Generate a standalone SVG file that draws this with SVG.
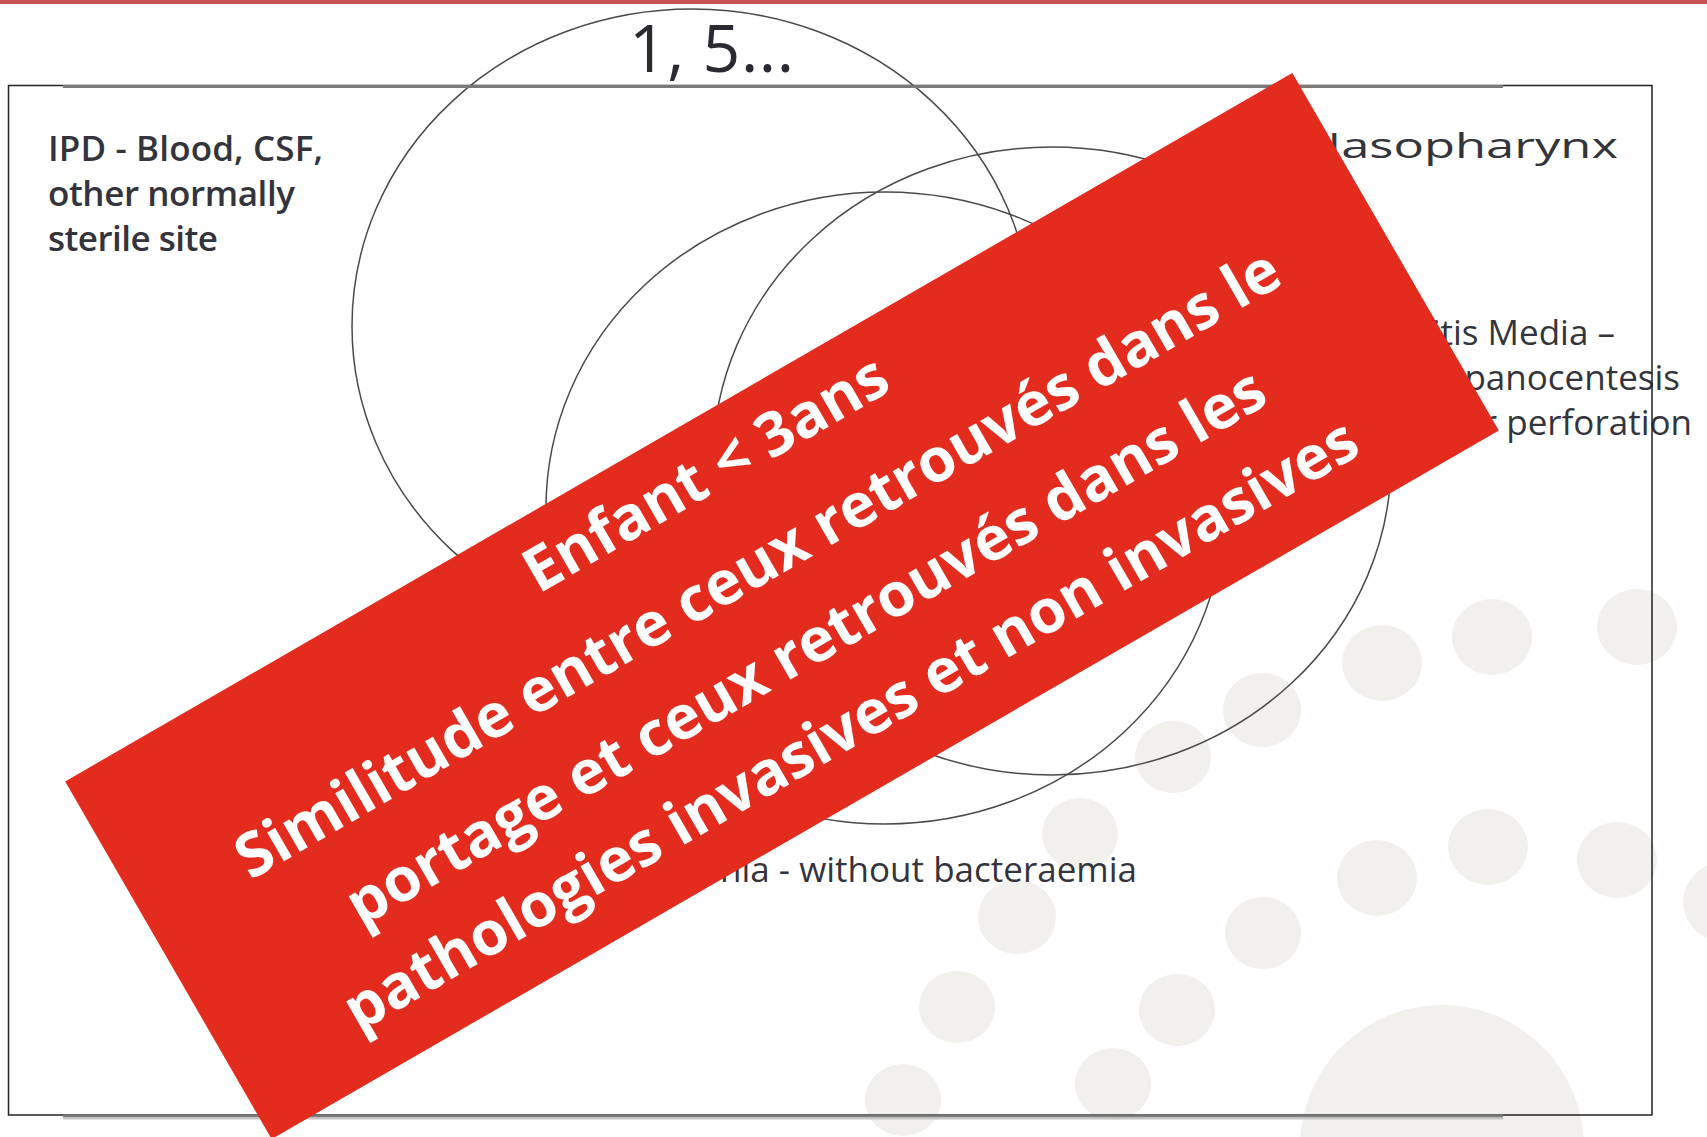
<svg xmlns="http://www.w3.org/2000/svg" width="1707" height="1137" viewBox="0 0 1707 1137">
<style>
.lbl{font-family:"Open Sans","Noto Sans","Liberation Sans",sans-serif;fill:#34343c;font-size:35px}
.big{font-family:"Open Sans","Noto Sans","Liberation Sans",sans-serif;fill:#2a2a30}
.ban{font-family:"Open Sans","Noto Sans","Liberation Sans",sans-serif;fill:#ffffff;font-size:61px;font-weight:700;text-anchor:middle}
.set{fill:none;stroke:#4a4a4a;stroke-width:1.5}
.dot{fill:#f1f0ec}
</style>
<rect width="1707" height="1137" fill="#ffffff"/>
<rect x="0" y="0" width="1707" height="4" fill="#c65353"/>
<g id="background-dots">
<ellipse class="dot" cx="1637" cy="627" rx="40" ry="38"/>
<ellipse class="dot" cx="1492" cy="637" rx="40" ry="38"/>
<ellipse class="dot" cx="1382" cy="663" rx="40" ry="38"/>
<ellipse class="dot" cx="1262" cy="710" rx="39" ry="37"/>
<ellipse class="dot" cx="1173" cy="757" rx="38" ry="36"/>
<ellipse class="dot" cx="1080" cy="834" rx="38" ry="36"/>
<ellipse class="dot" cx="1017" cy="917" rx="39" ry="37"/>
<ellipse class="dot" cx="957" cy="1007" rx="38" ry="36"/>
<ellipse class="dot" cx="903" cy="1100" rx="38" ry="36"/>
<ellipse class="dot" cx="1617" cy="860" rx="40" ry="38"/>
<ellipse class="dot" cx="1488" cy="847" rx="40" ry="38"/>
<ellipse class="dot" cx="1377" cy="878" rx="40" ry="38"/>
<ellipse class="dot" cx="1263" cy="933" rx="38" ry="36"/>
<ellipse class="dot" cx="1177" cy="1010" rx="38" ry="36"/>
<ellipse class="dot" cx="1113" cy="1084" rx="38" ry="36"/>
<ellipse class="dot" cx="1725" cy="902" rx="42" ry="40"/>
<circle class="dot" cx="1442" cy="1147" r="142"/>
</g>
<g id="sets">
<ellipse id="set-a" class="set" cx="692" cy="326" rx="340" ry="317"/>
<ellipse id="set-b" class="set" cx="885" cy="508" rx="339" ry="316"/>
<ellipse id="set-c" class="set" cx="1052" cy="461" rx="339" ry="314"/>
</g>
<g id="labels">
<g id="label-count"><text class="big" x="629" y="72" font-size="66" textLength="165">1, 5...</text></g>
<g id="label-ipd">
<text class="lbl" x="48" y="161" font-weight="600" textLength="275">IPD - Blood, CSF,</text>
<text class="lbl" x="48" y="206" font-weight="600" textLength="247">other normally</text>
<text class="lbl" x="48" y="251" font-weight="600" textLength="170">sterile site</text>
</g>
<g id="label-nasopharynx"><text class="lbl" x="1618" y="158" font-size="48" text-anchor="end" textLength="315" lengthAdjust="spacingAndGlyphs">Nasopharynx</text></g>
<g id="label-otitis">
<text class="lbl" x="1615" y="345" text-anchor="end">Otitis Media –</text>
<text class="lbl" x="1680" y="390" text-anchor="end">Tympanocentesis</text>
<text class="lbl" x="1692" y="435" text-anchor="end">or perforation</text>
</g>
<g id="label-pneumonia"><text class="lbl" x="1137" y="882" font-size="36" text-anchor="end">Pneumonia - without bacteraemia</text></g>
</g>
<g id="frame">
<rect x="8.5" y="85.5" width="1643.5" height="1029.5" fill="none" stroke="#222" stroke-width="1.5"/>
<line x1="63" y1="86.5" x2="1503" y2="86.5" stroke="#7a7a7a" stroke-width="3"/>
<line x1="63" y1="1116" x2="1503" y2="1116" stroke="#7a7a7a" stroke-width="3"/>
<line x1="63" y1="1118.5" x2="1503" y2="1118.5" stroke="#c4c4c4" stroke-width="2"/>
</g>
<g id="banner" transform="translate(782,606) rotate(-30)">
<rect x="-708.5" y="-206.5" width="1417" height="413" fill="#e32b1e"/>
<text class="ban" x="0" y="-132">Enfant &lt; 3ans</text>
<text class="ban" x="0" y="-28">Similitude entre ceux retrouvés dans le</text>
<text class="ban" x="0" y="68">portage et ceux retrouvés dans les</text>
<text class="ban" x="0" y="158">pathologies invasives et non invasives</text>
</g>
</svg>
